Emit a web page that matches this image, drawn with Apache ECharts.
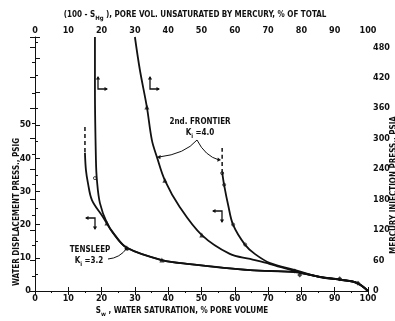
<!DOCTYPE html>
<html>
<head>
<meta charset="utf-8">
<script src="https://cdn.jsdelivr.net/npm/echarts@6/dist/echarts.min.js"></script>
<style>
  html, body { margin: 0; background: #fff; }
  #chart { width: 395px; height: 321px; }
</style>
</head>
<body>
<div id="chart"></div>
<script>
const FONT = '"DejaVu Sans Condensed", "DejaVu Sans", sans-serif';
const INK = '#111';

// tick labels
const satTicks = [0, 10, 20, 30, 40, 50, 60, 70, 80, 90, 100];
const waterTicks = [0, 10, 20, 30, 40, 50];
const mercuryTicks = [0, 60, 120, 180, 240, 300, 360, 420, 480];

// Tensleep, mercury injection (psia vs 100 - S_Hg)
const tensleepHg = [
  [18.0, 500], [18.0, 396], [18.3, 258], [18.6, 218], [19.5, 173], [21.6, 134],
  [24.0, 110], [27.6, 85], [38.1, 61], [46.5, 53], [64.6, 41], [78.1, 37],
  [85.6, 28], [92.2, 22], [96.7, 16], [100, 0]
];
// Tensleep, water displacement (psig vs S_w)
const tensleepWaterDash = [[15.0, 49.4], [15.0, 41.6]];
const tensleepWater = [
  [15.0, 41.6], [15.3, 36.4], [15.9, 32.5], [17.1, 27.4], [20.4, 22.3], [23.4, 17.5],
  [27.6, 13.0], [38.1, 9.3], [46.5, 8.1], [64.6, 6.3], [78.1, 5.7], [85.6, 4.2],
  [92.2, 3.3], [96.7, 2.4], [100, 0]
];
// 2nd Frontier, mercury injection
const frontierHg = [
  [30.0, 500], [31.5, 435], [33.6, 362], [35.1, 297], [36.6, 264], [39.0, 218],
  [43.5, 165], [50.1, 110], [58.5, 73], [64.6, 63], [70.6, 53], [78.1, 39],
  [85.6, 28], [92.2, 22], [96.7, 16], [100, 0]
];
// 2nd Frontier, water displacement
const frontierWaterDash = [[56.2, 43.1], [56.2, 35.8]];
const frontierWater = [
  [56.2, 35.8], [56.8, 31.9], [58.0, 25.9], [59.5, 19.9], [63.1, 13.9], [66.1, 11.1],
  [70.6, 8.4], [78.1, 6.3], [85.6, 4.2], [92.2, 3.3], [96.7, 2.4], [100, 0]
];
// measured points
const waterPoints = [[56.2, 35.5], [56.8, 32.0], [59.5, 20.0], [63.1, 14.0], [18.0, 34.0]];
const mercuryArrows = [[33.6, 362], [39.0, 218], [50.1, 110], [21.6, 134], [27.6, 85], [38.1, 61]];
const tailPoints = [[78.0, 6.0], [79.5, 4.8], [91.5, 3.7], [97.0, 2.3]];

const chart = echarts.init(document.getElementById('chart'));

const tickText = { color: INK, fontFamily: FONT, fontWeight: 'bold', fontSize: 9 };
const axisLine = { show: true, lineStyle: { color: INK, width: 1 } };

function lineSeries(data, xi, yi, dashed) {
  return {
    type: 'line', data: data, xAxisIndex: xi, yAxisIndex: yi,
    smooth: 0.35, showSymbol: false, silent: true,
    lineStyle: { color: INK, width: dashed ? 1.5 : 1.8, type: dashed ? [4, 3] : 'solid' }
  };
}

chart.setOption({
  animation: false,
  backgroundColor: '#fff',
  grid: { left: 35, right: 27, top: 37, bottom: 30 },
  xAxis: [
    {
      type: 'value', position: 'bottom', min: 0, max: 100, interval: 10,
      axisLine: axisLine,
      axisTick: { inside: true, length: 4, lineStyle: { color: INK } },
      axisLabel: Object.assign({ margin: 3, formatter: v => satTicks.includes(v) ? v : '' }, tickText),
      splitLine: { show: false }
    },
    {
      type: 'value', position: 'top', min: 0, max: 100, interval: 10,
      axisLine: axisLine,
      axisTick: { inside: true, length: 4, lineStyle: { color: INK } },
      minorTick: { show: true, splitNumber: 2, length: 2, lineStyle: { color: INK } },
      axisLabel: Object.assign({ margin: 2, formatter: v => satTicks.includes(v) ? v : '' }, tickText),
      splitLine: { show: false }
    }
  ],
  yAxis: [
    {
      type: 'value', position: 'left', min: 0, max: 76.5, interval: 10,
      axisLine: axisLine,
      axisTick: { inside: true, length: 5, lineStyle: { color: INK } },
      minorTick: { show: true, splitNumber: 2, length: 3, lineStyle: { color: INK } },
      axisLabel: Object.assign({ margin: 4, formatter: v => waterTicks.includes(v) ? v : '' }, tickText),
      splitLine: { show: false }
    },
    {
      type: 'value', position: 'right', min: 0, max: 500, interval: 60,
      axisLine: { show: false },
      axisTick: { show: true, inside: true, length: 5, lineStyle: { color: INK } },
      minorTick: { show: true, splitNumber: 2, length: 3, lineStyle: { color: INK } },
      axisLabel: Object.assign({ margin: 5, formatter: v => mercuryTicks.includes(v) ? v : '' }, tickText),
      splitLine: { show: false }
    }
  ],
  series: [
    lineSeries(tensleepHg, 1, 1, false),
    lineSeries(tensleepWaterDash, 0, 0, true),
    lineSeries(tensleepWater, 0, 0, false),
    lineSeries(frontierHg, 1, 1, false),
    lineSeries(frontierWaterDash, 0, 0, true),
    lineSeries(frontierWater, 0, 0, false),
    {
      type: 'scatter', data: waterPoints, xAxisIndex: 0, yAxisIndex: 0, silent: true,
      symbol: 'circle', symbolSize: 3,
      itemStyle: { color: '#fff', borderColor: INK, borderWidth: 1 }
    },
    {
      type: 'scatter', data: mercuryArrows, xAxisIndex: 1, yAxisIndex: 1, silent: true,
      symbol: 'triangle', symbolSize: 5, itemStyle: { color: INK }
    },
    {
      type: 'scatter', data: tailPoints, xAxisIndex: 0, yAxisIndex: 0, silent: true,
      symbol: 'diamond', symbolSize: 5, itemStyle: { color: INK }
    }
  ],
  graphic: buildGraphics()
});

function txt(x, y, rich, text, rot, align) {
  return {
    type: 'text', x: x, y: y, rotation: rot || 0, silent: true,
    style: {
      text: text, fill: INK, font: 'bold 8px ' + FONT,
      align: align || 'center', verticalAlign: 'middle', rich: rich
    }
  };
}

function arrowHead(x, y, dir) {
  // small filled triangle pointing in dir (radians)
  const s = 3.5;
  const p = [[0, 0], [-s, -s * 0.6], [-s, s * 0.6]].map(([a, b]) => [
    x + a * Math.cos(dir) - b * Math.sin(dir),
    y + a * Math.sin(dir) + b * Math.cos(dir)
  ]);
  return { type: 'polygon', silent: true, shape: { points: p }, style: { fill: INK } };
}

function bend(x1, y1, cx, cy, x2, y2) {
  return {
    type: 'bezierCurve', silent: true,
    shape: { x1: x1, y1: y1, x2: x2, y2: y2, cpx1: cx, cpy1: cy },
    style: { stroke: INK, lineWidth: 1, fill: null }
  };
}

function seg(points) {
  return { type: 'polyline', silent: true, shape: { points: points }, style: { stroke: INK, lineWidth: 1.3 } };
}

// L-shaped axis keys: up/right for mercury curves, left/down for water curves
function keyUpRight(x, y) {
  return [seg([[x, y - 12], [x, y], [x + 9, y]]), arrowHead(x, y - 13, -Math.PI / 2), arrowHead(x + 10, y, 0)];
}
function keyLeftDown(x, y) {
  return [seg([[x - 9, y], [x, y], [x, y + 11]]), arrowHead(x - 10, y, Math.PI), arrowHead(x, y + 12, Math.PI / 2)];
}

function buildGraphics() {
  const sub = { fontSize: 6, fontWeight: 'bold', fontFamily: FONT, padding: [6, 0, 0, 0], fill: INK };
  const base = { fontSize: 8, fontWeight: 'bold', fontFamily: FONT, fill: INK };
  const rich = { s: sub, b: base };
  return [
    txt(195, 15, rich, '{b|(100 - S}{s|Hg}{b| ), PORE VOL. UNSATURATED BY MERCURY, % OF TOTAL}'),
    txt(182, 311, rich, '{b|S}{s|w}{b| , WATER SATURATION, % PORE VOLUME}'),
    txt(17, 212, rich, '{b|WATER DISPLACEMENT PRESS., PSIG}', Math.PI / 2),
    txt(394, 185, rich, '{b|MERCURY INJECTION PRESS., PSIA}', Math.PI / 2),
    txt(200, 122, rich, '{b|2nd. FRONTIER}'),
    txt(200, 133, rich, '{b|K}{s|i}{b| =4.0}'),
    txt(90, 250, rich, '{b|TENSLEEP}'),
    txt(89, 261, rich, '{b|K}{s|i}{b| =3.2}'),
    bend(197, 140, 185, 154, 159, 157),
    arrowHead(157, 157, Math.PI * 1.02),
    bend(197, 140, 205, 156, 219, 160),
    arrowHead(221, 160, 0.1),
    bend(108, 259, 120, 258, 127, 248),
    arrowHead(128, 247, -0.9),
    ...keyUpRight(98, 89),
    ...keyUpRight(150, 89),
    ...keyLeftDown(95, 218),
    ...keyLeftDown(222, 211)
  ];
}
</script>
</body>
</html>
